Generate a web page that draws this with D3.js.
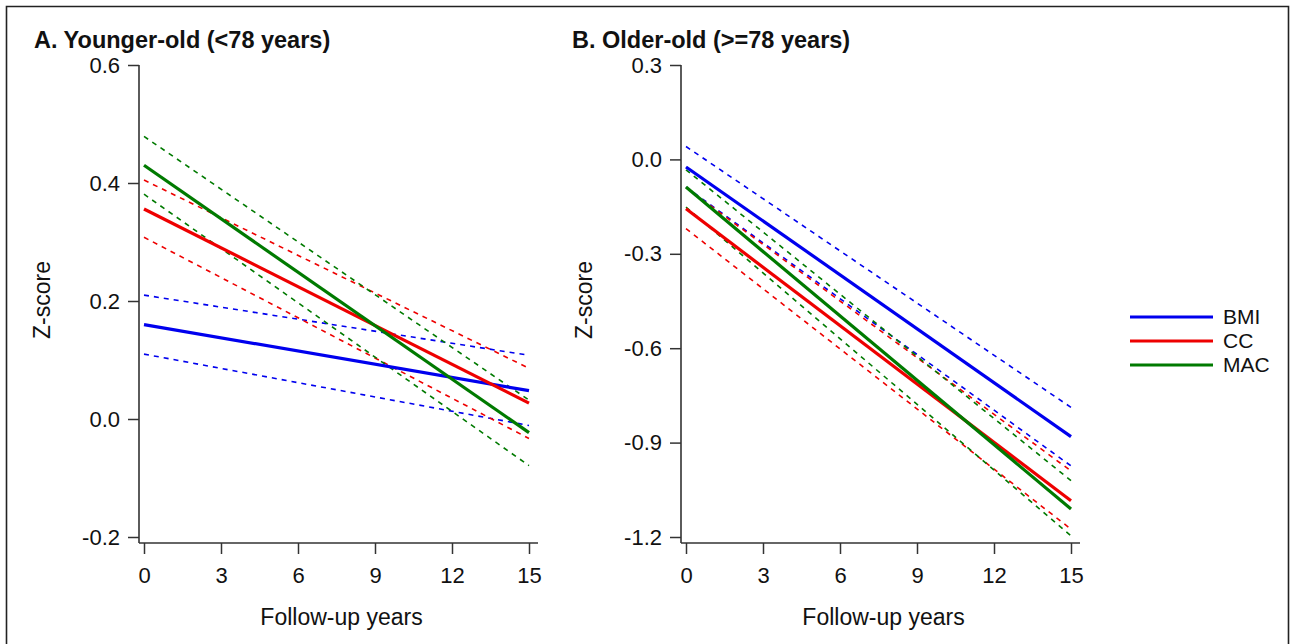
<!DOCTYPE html>
<html>
<head>
<meta charset="utf-8">
<script src="https://cdn.jsdelivr.net/npm/d3@7"></script>
<style>
  html, body { margin: 0; padding: 0; background: #fff; }
  svg { display: block; }
  text { font-family: "Liberation Sans", Arial, sans-serif; fill: #111; }
</style>
</head>
<body>
<svg id="chart" width="1291" height="644"></svg>
<script>
// ---- data ----
const years = [0, 15];
const xTicks = [0, 3, 6, 9, 12, 15];
const seriesNames = ["BMI", "CC", "MAC"];
const seriesColors = ["#0000ee", "#ee0000", "#007a00"];

// Panel A: Younger-old (<78 years) — values at year 0 and year 15
const yTicksA = [-0.2, 0.0, 0.2, 0.4, 0.6];
const bmiA = [0.160, 0.048], bmiA_lo = [0.110, -0.011], bmiA_hi = [0.210, 0.108];
const ccA = [0.356, 0.027], ccA_lo = [0.308, -0.033], ccA_hi = [0.405, 0.086];
const macA = [0.430, -0.023], macA_lo = [0.381, -0.079], macA_hi = [0.479, 0.032];

// Panel B: Older-old (>=78 years)
const yTicksB = [-1.2, -0.9, -0.6, -0.3, 0.0, 0.3];
const bmiB = [-0.024, -0.881], bmiB_lo = [-0.088, -0.974], bmiB_hi = [0.041, -0.788];
const ccB = [-0.157, -1.085], ccB_lo = [-0.220, -1.175], ccB_hi = [-0.090, -0.990];
const macB = [-0.088, -1.111], macB_lo = [-0.152, -1.196], macB_hi = [-0.033, -1.021];

const svg = d3.select("#chart");

// outer frame
svg.append("path")
  .attr("d", "M6.5,660 L6.5,6.5 L1288.5,6.5 L1288.5,660")
  .attr("fill", "none").attr("stroke", "#222").attr("stroke-width", 1.6);

const FS = 23, TFS = 22;

function panel(opts) {
  const { title, titleX, x0, x1, yTop, yBot, yTicks, ySeries, axisX, labelX } = opts;
  const x = d3.scaleLinear().domain([0, 15]).range([x0, x1]);
  const y = d3.scaleLinear().domain([yTicks[0], yTicks[yTicks.length - 1]]).range([yBot, yTop]);
  const axisY = 543;
  const g = svg.append("g");

  // title
  g.append("text").attr("x", titleX).attr("y", 48)
    .attr("font-size", 23.5).attr("font-weight", "bold").text(title);

  // lines: dashed CIs, then solid
  const line = d3.line().x((d, i) => x(years[i])).y(d => y(d));
  ySeries.forEach((s, k) => {
    [s.lo, s.hi].forEach(arr => {
      g.append("path").attr("d", line(arr)).attr("fill", "none")
        .attr("stroke", seriesColors[k]).attr("stroke-width", 1.6)
        .attr("stroke-dasharray", "5,5");
    });
  });
  ySeries.forEach((s, k) => {
    g.append("path").attr("d", line(s.mid)).attr("fill", "none")
      .attr("stroke", seriesColors[k]).attr("stroke-width", 3.2);
  });

  // y axis
  const ya = g.append("g").attr("transform", `translate(${axisX},0)`)
    .call(d3.axisLeft(y).tickValues(yTicks).tickSize(11).tickPadding(8)
      .tickFormat(d => d.toFixed(1)));
  ya.select(".domain").remove();
  ya.selectAll(".tick line").attr("stroke", "#333").attr("stroke-width", 1.5);
  ya.selectAll(".tick text").attr("font-size", TFS).attr("fill", "#111")
    .attr("font-family", "Liberation Sans, Arial, sans-serif");
  g.append("line").attr("x1", axisX).attr("x2", axisX).attr("y1", y(yTicks[yTicks.length - 1]))
    .attr("y2", axisY).attr("stroke", "#333").attr("stroke-width", 1.6);

  // x axis
  const xa = g.append("g").attr("transform", `translate(0,${axisY})`)
    .call(d3.axisBottom(x).tickValues(xTicks).tickSize(11).tickPadding(13));
  xa.select(".domain").remove();
  xa.selectAll(".tick line").attr("stroke", "#333").attr("stroke-width", 1.5);
  xa.selectAll(".tick text").attr("font-size", TFS).attr("fill", "#111")
    .attr("font-family", "Liberation Sans, Arial, sans-serif");
  g.append("line").attr("x1", axisX).attr("x2", x1 + 9).attr("y1", axisY)
    .attr("y2", axisY).attr("stroke", "#333").attr("stroke-width", 1.6);

  // axis titles
  g.append("text").attr("x", (x0 + x1) / 2 + 5).attr("y", 625).attr("text-anchor", "middle")
    .attr("font-size", FS).text("Follow-up years");
  g.append("text").attr("transform", `translate(${labelX},300) rotate(-90)`)
    .attr("text-anchor", "middle").attr("font-size", FS).text("Z-score");
}

panel({
  title: "A. Younger-old (<78 years)", titleX: 34, x0: 144, x1: 529,
  yTop: 65, yBot: 537, yTicks: yTicksA, axisX: 139, labelX: 50,
  ySeries: [
    { mid: bmiA, lo: bmiA_lo, hi: bmiA_hi },
    { mid: ccA, lo: ccA_lo, hi: ccA_hi },
    { mid: macA, lo: macA_lo, hi: macA_hi }
  ]
});
panel({
  title: "B. Older-old (>=78 years)", titleX: 572, x0: 686, x1: 1071,
  yTop: 65, yBot: 537, yTicks: yTicksB, axisX: 681, labelX: 592,
  ySeries: [
    { mid: bmiB, lo: bmiB_lo, hi: bmiB_hi },
    { mid: ccB, lo: ccB_lo, hi: ccB_hi },
    { mid: macB, lo: macB_lo, hi: macB_hi }
  ]
});

// legend
const leg = svg.append("g");
const legY = d3.scalePoint().domain(seriesNames).range([317, 365]);
seriesNames.forEach((n, i) => {
  leg.append("line").attr("x1", 1130).attr("x2", 1213).attr("y1", legY(n)).attr("y2", legY(n))
    .attr("stroke", seriesColors[i]).attr("stroke-width", 3.2);
  leg.append("text").attr("x", 1223).attr("y", legY(n)).attr("dy", "0.35em")
    .attr("font-size", 21).text(n);
});
</script>
</body>
</html>
